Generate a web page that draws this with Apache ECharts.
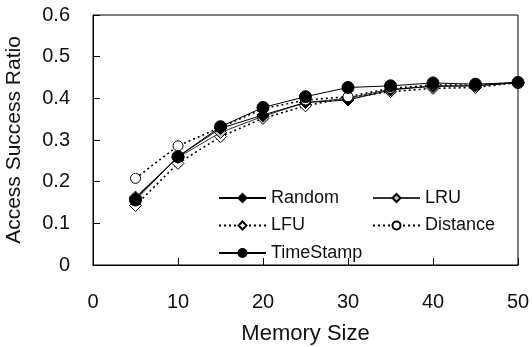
<!DOCTYPE html>
<html>
<head>
<meta charset="utf-8">
<script src="https://cdn.jsdelivr.net/npm/echarts@6/dist/echarts.min.js"></script>
<style>
html,body{margin:0;padding:0;background:#fff;}
#chart{width:532px;height:347px;}
</style>
</head>
<body>
<div id="chart"></div>
<script>
const memorySize = [5, 10, 15, 20, 25, 30, 35, 40, 45, 50];
const randomVals = [0.160, 0.260, 0.328, 0.360, 0.390, 0.396, 0.420, 0.430, 0.430, 0.438];
const lruVals = [0.163, 0.258, 0.318, 0.357, 0.390, 0.400, 0.422, 0.428, 0.430, 0.438];
const lfuVals = [0.143, 0.244, 0.308, 0.352, 0.382, 0.402, 0.416, 0.424, 0.426, 0.438];
const distanceVals = [0.208, 0.286, 0.330, 0.375, 0.396, 0.404, 0.424, 0.432, 0.432, 0.438];
const timeStampVals = [0.156, 0.260, 0.332, 0.378, 0.404, 0.426, 0.430, 0.437, 0.434, 0.438];
const xTicks = [0, 10, 20, 30, 40, 50];
const yTicks = [0, 0.1, 0.2, 0.3, 0.4, 0.5, 0.6];

const FONT = 'Liberation Sans, Arial, sans-serif';
const pairs = v => memorySize.map((x, i) => [x, v[i]]);

function mk(name, vals, symbol, size, fill, dotted, z, lineColor) {
  return {
    name: name, type: 'line', data: pairs(vals), z: z,
    symbol: symbol, symbolSize: size,
    itemStyle: { color: fill, borderColor: '#000', borderWidth: 1, opacity: 1 },
    lineStyle: { color: lineColor || '#000', width: dotted ? 1.6 : 1, type: dotted ? [2, 3] : 'solid' },
    emphasis: { disabled: true },
    animation: false
  };
}

const chart = echarts.init(document.getElementById('chart'));
const legendCommon = {
  orient: 'vertical', itemWidth: 47, itemHeight: 10, itemGap: 9.5,
  textStyle: { fontFamily: FONT, fontSize: 18, color: '#111', lineHeight: 18 },
  inactiveColor: '#000', selectedMode: false
};
chart.setOption({
  animation: false,
  grid: { left: 93, right: 14, top: 15, bottom: 82, show: true, borderColor: '#000', borderWidth: 1,
          containLabel: false, outerBoundsMode: 'none' },
  xAxis: {
    type: 'value', min: xTicks[0], max: xTicks[xTicks.length - 1], interval: 10,
    name: 'Memory Size', nameLocation: 'middle', nameGap: 58,
    nameTextStyle: { fontFamily: FONT, fontSize: 22, color: '#111' },
    axisLine: { show: true, lineStyle: { color: '#000', width: 1 } },
    axisTick: { show: true, inside: true, length: 7, lineStyle: { color: '#000' } },
    axisLabel: { fontFamily: FONT, fontSize: 20, color: '#111', margin: 27 },
    splitLine: { show: false }
  },
  yAxis: {
    type: 'value', min: yTicks[0], max: yTicks[yTicks.length - 1], interval: 0.1,
    name: 'Access Success Ratio', nameLocation: 'middle', nameGap: 68,
    nameTextStyle: { fontFamily: FONT, fontSize: 21, color: '#111' },
    axisLine: { show: true, lineStyle: { color: '#000', width: 1 } },
    axisTick: { show: true, inside: true, length: 7, lineStyle: { color: '#000' } },
    axisLabel: { fontFamily: FONT, fontSize: 20, color: '#111', margin: 23,
      formatter: v => (Math.abs(v) < 1e-9 ? '0' : v.toFixed(1)) },
    splitLine: { show: false }
  },
  legend: [
    Object.assign({ left: 213, top: 184, data: ['Random', 'LFU', 'TimeStamp'] }, legendCommon),
    Object.assign({ left: 367, top: 184, data: ['LRU', 'Distance'] }, legendCommon)
  ],
  series: [
    mk('Random', randomVals, 'diamond', 12, '#000', false, 3),
    mk('LRU', lruVals, 'diamond', 12, '#bdbdbd', false, 2, '#333'),
    mk('LFU', lfuVals, 'diamond', 12, '#fff', true, 1),
    mk('Distance', distanceVals, 'circle', 10, '#fff', true, 4),
    mk('TimeStamp', timeStampVals, 'circle', 12, '#000', false, 5)
  ]
});
</script>
</body>
</html>
